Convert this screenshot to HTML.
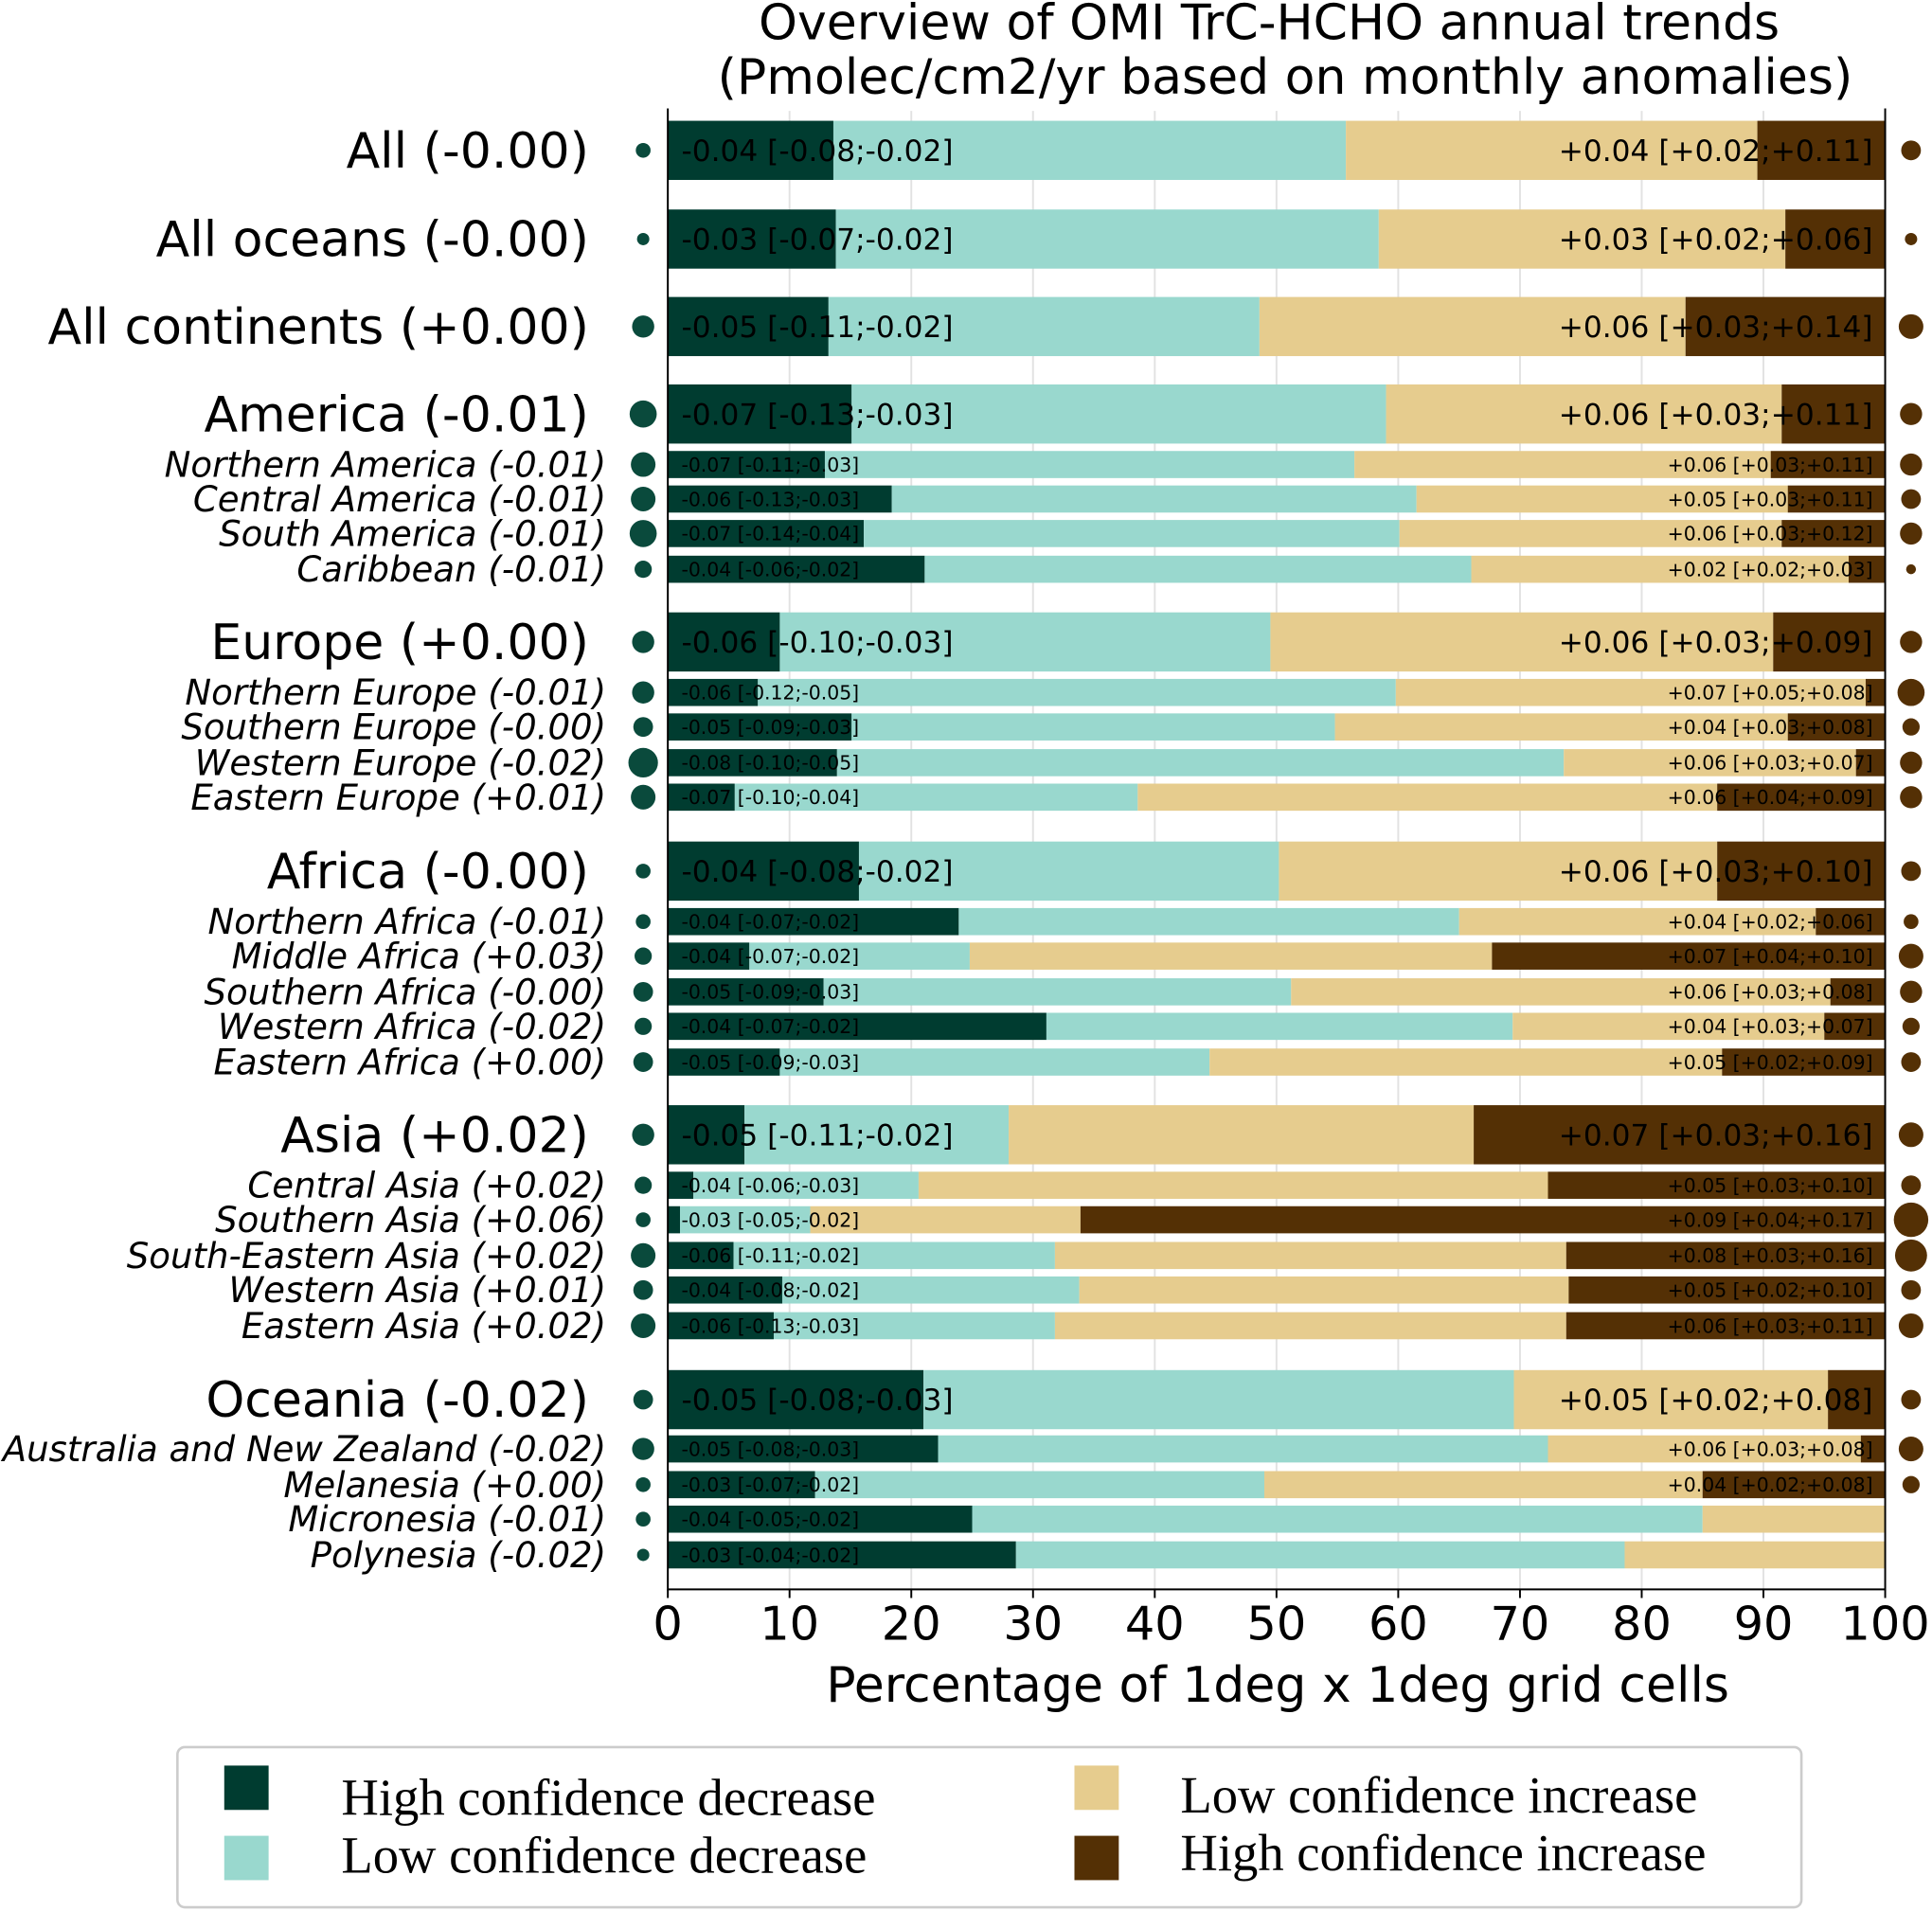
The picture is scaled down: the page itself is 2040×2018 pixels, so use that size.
<!DOCTYPE html>
<html><head><meta charset="utf-8"><style>
html,body{margin:0;padding:0;background:#fff}
svg{display:block}
</style></head><body>
<svg id="chart" width="2040" height="2018" viewBox="0 0 1568 1551" xmlns="http://www.w3.org/2000/svg" font-family="'DejaVu Sans', 'Liberation Sans', sans-serif">
<text x="1030" y="32" font-size="40" text-anchor="middle">Overview of OMI TrC-HCHO annual trends</text>
<text x="1043" y="76" font-size="40" text-anchor="middle">(Pmolec/cm2/yr based on monthly anomalies)</text>
<g id="grid"></g><g id="bars"></g><g id="axes"></g>
<text x="1037" y="1381" font-size="40" text-anchor="middle">Percentage of 1deg x 1deg grid cells</text>
<g>
<rect x="144" y="1418" width="1318" height="130" rx="6" fill="#fff" stroke="#ccc" stroke-width="2"/>
<rect x="182" y="1433" width="36" height="36" fill="#003c30"/>
<text x="277" y="1473" font-size="42" font-family="'Liberation Serif', serif">High confidence decrease</text>
<rect x="182" y="1490" width="36" height="36" fill="#99d8ce"/>
<text x="277" y="1520" font-size="42" font-family="'Liberation Serif', serif">Low confidence decrease</text>
<rect x="872" y="1433" width="36" height="36" fill="#e6cc8e"/>
<text x="958" y="1471" font-size="42" font-family="'Liberation Serif', serif">Low confidence increase</text>
<rect x="872" y="1490" width="36" height="36" fill="#543005"/>
<text x="958" y="1518" font-size="42" font-family="'Liberation Serif', serif">High confidence increase</text>
</g>
</svg>
<script>
const labels=["All (-0.00)","All oceans (-0.00)","All continents (+0.00)","America (-0.01)","Northern America (-0.01)","Central America (-0.01)","South America (-0.01)","Caribbean (-0.01)","Europe (+0.00)","Northern Europe (-0.01)","Southern Europe (-0.00)","Western Europe (-0.02)","Eastern Europe (+0.01)","Africa (-0.00)","Northern Africa (-0.01)","Middle Africa (+0.03)","Southern Africa (-0.00)","Western Africa (-0.02)","Eastern Africa (+0.00)","Asia (+0.02)","Central Asia (+0.02)","Southern Asia (+0.06)","South-Eastern Asia (+0.02)","Western Asia (+0.01)","Eastern Asia (+0.02)","Oceania (-0.02)","Australia and New Zealand (-0.02)","Melanesia (+0.00)","Micronesia (-0.01)","Polynesia (-0.02)"];
const isMajor=[1,1,1,1,0,0,0,0,1,0,0,0,0,1,0,0,0,0,0,1,0,0,0,0,0,1,0,0,0,0];
const rowCenters=[122,194,265,336,377,405,433,462,521,562,590,619,647,707,748,776,805,833,862,921,962,990,1019,1047,1076,1136,1176,1205,1233,1262];
const highDecrease=[13.6,13.8,13.2,15.1,12.9,18.4,16.1,21.1,9.2,7.4,15.1,13.9,5.5,15.7,23.9,6.7,12.8,31.1,9.2,6.3,2.1,1.0,5.4,9.4,8.7,21.0,22.2,12.1,25.0,28.6];
const lowDecrease=[42.1,44.6,35.4,43.9,43.5,43.1,44.0,44.9,40.3,52.4,39.7,59.7,33.1,34.5,41.1,18.1,38.4,38.3,35.3,21.7,18.5,10.7,26.4,24.4,23.1,48.5,50.1,36.9,60.0,50.0];
const lowIncrease=[33.8,33.4,35.0,32.5,34.2,30.5,31.4,31.0,41.3,38.6,37.2,24.0,47.6,36.0,29.3,42.9,44.3,25.6,42.1,38.2,51.7,22.2,42.0,40.2,42.0,25.8,25.7,36.0,15.0,21.4];
const highIncrease=[10.5,8.2,16.4,8.5,9.4,8.0,8.5,3.0,9.2,1.6,8.0,2.4,13.8,13.8,5.7,32.3,4.5,5.0,13.4,33.8,27.7,66.1,26.2,26.0,26.2,4.7,2.0,15.0,0,0];
const decText=["-0.04 [-0.08;-0.02]","-0.03 [-0.07;-0.02]","-0.05 [-0.11;-0.02]","-0.07 [-0.13;-0.03]","-0.07 [-0.11;-0.03]","-0.06 [-0.13;-0.03]","-0.07 [-0.14;-0.04]","-0.04 [-0.06;-0.02]","-0.06 [-0.10;-0.03]","-0.06 [-0.12;-0.05]","-0.05 [-0.09;-0.03]","-0.08 [-0.10;-0.05]","-0.07 [-0.10;-0.04]","-0.04 [-0.08;-0.02]","-0.04 [-0.07;-0.02]","-0.04 [-0.07;-0.02]","-0.05 [-0.09;-0.03]","-0.04 [-0.07;-0.02]","-0.05 [-0.09;-0.03]","-0.05 [-0.11;-0.02]","-0.04 [-0.06;-0.03]","-0.03 [-0.05;-0.02]","-0.06 [-0.11;-0.02]","-0.04 [-0.08;-0.02]","-0.06 [-0.13;-0.03]","-0.05 [-0.08;-0.03]","-0.05 [-0.08;-0.03]","-0.03 [-0.07;-0.02]","-0.04 [-0.05;-0.02]","-0.03 [-0.04;-0.02]"];
const incText=["+0.04 [+0.02;+0.11]","+0.03 [+0.02;+0.06]","+0.06 [+0.03;+0.14]","+0.06 [+0.03;+0.11]","+0.06 [+0.03;+0.11]","+0.05 [+0.03;+0.11]","+0.06 [+0.03;+0.12]","+0.02 [+0.02;+0.03]","+0.06 [+0.03;+0.09]","+0.07 [+0.05;+0.08]","+0.04 [+0.03;+0.08]","+0.06 [+0.03;+0.07]","+0.06 [+0.04;+0.09]","+0.06 [+0.03;+0.10]","+0.04 [+0.02;+0.06]","+0.07 [+0.04;+0.10]","+0.06 [+0.03;+0.08]","+0.04 [+0.03;+0.07]","+0.05 [+0.02;+0.09]","+0.07 [+0.03;+0.16]","+0.05 [+0.03;+0.10]","+0.09 [+0.04;+0.17]","+0.08 [+0.03;+0.16]","+0.05 [+0.02;+0.10]","+0.06 [+0.03;+0.11]","+0.05 [+0.02;+0.08]","+0.06 [+0.03;+0.08]","+0.04 [+0.02;+0.08]","",""];
const leftDotSize=[6,5,9,11,10,10,11,7,9,9,8,12,10,6,6,7,8,7,8,9,7,6,10,8,10,8,9,6,6,5];
const rightDotSize=[8,5,10,9,9,8,9,4,9,11,7,9,9,8,6,10,9,7,8,10,8,14,13,8,10,8,10,7,0,0];
const xTicks=[0,10,20,30,40,50,60,70,80,90,100];

const NS="http://www.w3.org/2000/svg";
const X0=542,X1=1530;
const xs=v=>X0+(X1-X0)*v/100;
function mk(parent,tag,attrs,txt){const e=document.createElementNS(NS,tag);for(const k in attrs)e.setAttribute(k,attrs[k]);if(txt!==undefined)e.textContent=txt;parent.appendChild(e);return e;}
const grid=document.getElementById('grid'),bars=document.getElementById('bars'),axes=document.getElementById('axes');
xTicks.forEach(t=>{
  const l=mk(grid,'line',{x1:xs(t),x2:xs(t),y1:90,y2:1290,stroke:'#e2e2e2','stroke-width':1.5});
  
  
  const tk=mk(axes,'line',{x1:xs(t),x2:xs(t),y1:1290,y2:1297,stroke:'#000','stroke-width':1.5});
  
  
  const tl=mk(axes,'text',{x:xs(t),y:1331,'font-size':38,'text-anchor':'middle'},String(t));
  
  
});
const colors=['#003c30','#99d8ce','#e6cc8e','#543005'];
const segNames=['high-decrease','low-decrease','low-increase','high-increase'];
labels.forEach((lab,i)=>{
  const cy=rowCenters[i],h=isMajor[i]?48:22;
  const vals=[highDecrease[i],lowDecrease[i],lowIncrease[i],highIncrease[i]];
  let acc=0;
  const g=mk(bars,'g',{});
  
  
  vals.forEach((v,k)=>{
    if(v<=0)return;
    const r=mk(g,'rect',{x:xs(acc),y:cy-h/2,width:xs(acc+v)-xs(acc),height:h,fill:colors[k]});
    
    
    acc+=v;
  });
  const fs=isMajor[i]?24:15.7;
  const dt=mk(g,'text',{x:553,y:cy+fs*0.36,'font-size':fs,fill:'#000'},decText[i]);
  
  
  if(incText[i]){
    const it=mk(g,'text',{x:1520,y:cy+fs*0.36,'font-size':fs,'text-anchor':'end',fill:'#000'},incText[i]);
    
    
  }
  const lt=isMajor[i]?mk(g,'text',{x:478,y:cy+14,'font-size':40,'text-anchor':'end'},lab):mk(g,'text',{x:492,y:cy+10,'font-size':28.5,'font-style':'italic','text-anchor':'end'},lab);
  
  
  const ld=mk(g,'circle',{cx:522,cy:cy,r:leftDotSize[i],fill:'#0a4a3c'});
  
  
  if(rightDotSize[i]>0){
    const rd=mk(g,'circle',{cx:1551,cy:cy,r:rightDotSize[i],fill:'#543005'});
    
    
  }
});
const sp=mk(axes,'path',{d:`M${X0} 88 V1290 H${X1} V88`,fill:'none',stroke:'#000','stroke-width':1.5});


</script>
</body></html>
